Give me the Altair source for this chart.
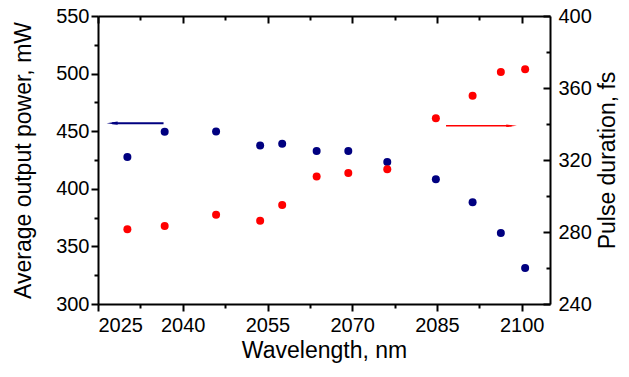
import altair as alt
import pandas as pd

# ---- data ----
wavelength = [2030.2, 2036.8, 2045.9, 2053.7, 2057.6, 2063.7, 2069.3, 2076.2, 2084.8, 2091.3, 2096.3, 2100.6]
power = [427.6, 449.6, 449.8, 437.5, 439.0, 432.8, 432.8, 423.3, 408.3, 388.3, 361.7, 331.2]
duration = [281.5, 283.3, 289.6, 286.3, 295.0, 310.9, 312.8, 314.8, 343.2, 355.7, 368.9, 370.4]

# arrows pointing to the axis each series belongs to
power_arrow_x = [2036.6, 2027.5]
power_arrow_y = [457, 457]
duration_arrow_x = [2086.6, 2098.2]
duration_arrow_y = [339, 339]

x_major = [2025, 2040, 2055, 2070, 2085, 2100]
x_minor = [2032.5, 2047.5, 2062.5, 2077.5, 2092.5]
p_major = [300, 350, 400, 450, 500, 550]
p_minor = [325, 375, 425, 475, 525]
d_major = [240, 280, 320, 360, 400]
d_minor = [260, 300, 340, 380]

NAVY = "#000080"
RED = "#ff0000"
FONT = "Liberation Sans"

df = pd.DataFrame({"wavelength": wavelength, "power": power, "duration": duration})
pa = pd.DataFrame({"x": [power_arrow_x[0]], "x2": [power_arrow_x[1]], "y": [power_arrow_y[0]]})
da = pd.DataFrame({"x": [duration_arrow_x[0]], "x2": [duration_arrow_x[1]], "y": [duration_arrow_y[0]]})

xs = alt.Scale(domain=[2025, 2105], nice=False, zero=False)
ps = alt.Scale(domain=[300, 550], nice=False, zero=False)
ds = alt.Scale(domain=[240, 400], nice=False, zero=False)

common = dict(domainColor="black", tickColor="black", domainWidth=2, tickWidth=2,
              labelColor="black", titleColor="black", grid=False,
              labelFont=FONT, titleFont=FONT, labelFontSize=20, titleFontSize=23,
              titleFontWeight="normal")

# A: blue points, bottom + left axes with labels (major, outward ticks)
A = alt.Chart(df).mark_circle(color=NAVY, size=64, opacity=1).encode(
    x=alt.X("wavelength:Q", scale=xs,
            axis=alt.Axis(orient="bottom", values=x_major, tickSize=7, labelPadding=4,
                          format="d", title="Wavelength, nm", titlePadding=4, **common)),
    y=alt.Y("power:Q", scale=ps,
            axis=alt.Axis(orient="left", values=p_major, tickSize=7, labelPadding=2,
                          format="d", title="Average output power, mW", titlePadding=20, **common)),
)

# B: red points, right axis labels
B = alt.Chart(df).mark_circle(color=RED, size=64, opacity=1).encode(
    x=alt.X("wavelength:Q", scale=xs, axis=None),
    y=alt.Y("duration:Q", scale=ds,
            axis=alt.Axis(orient="right", values=d_major, ticks=False, tickSize=0, labelPadding=8,
                          format="d", title="Pulse duration, fs", titleAngle=270,
                          titleBaseline="top", titlePadding=5, **common)),
)

# C: minor outward ticks on bottom and left
C = alt.Chart(df).mark_circle(opacity=0).encode(
    x=alt.X("wavelength:Q", scale=xs,
            axis=alt.Axis(orient="bottom", values=x_minor, tickSize=4, labels=False,
                          domain=False, title=None, **common)),
    y=alt.Y("power:Q", scale=ps,
            axis=alt.Axis(orient="left", values=p_minor, tickSize=4, labels=False,
                          domain=False, title=None, **common)),
)

# D: inward major ticks on top and right (top border drawn here)
D = alt.Chart(df).mark_circle(opacity=0).encode(
    x=alt.X("wavelength:Q", scale=xs,
            axis=alt.Axis(orient="bottom", offset=-288, values=x_major, tickSize=7, labels=False,
                          domain=True, title=None, **common)),
    y=alt.Y("duration:Q", scale=ds,
            axis=alt.Axis(orient="left", offset=-452, values=d_major, tickSize=7, labels=False,
                          domain=False, title=None, **common)),
)

# E: inward minor ticks on top and right
E = alt.Chart(df).mark_circle(opacity=0).encode(
    x=alt.X("wavelength:Q", scale=xs,
            axis=alt.Axis(orient="bottom", offset=-288, values=x_minor, tickSize=4, labels=False,
                          domain=False, title=None, **common)),
    y=alt.Y("duration:Q", scale=ds,
            axis=alt.Axis(orient="left", offset=-452, values=d_minor, tickSize=4, labels=False,
                          domain=False, title=None, **common)),
)

# arrows
F1 = alt.Chart(pa).mark_rule(color=NAVY, strokeWidth=2).encode(
    x=alt.X("x:Q", scale=xs, axis=None), x2="x2:Q",
    y=alt.Y("y:Q", scale=ps, axis=None))
F2 = alt.Chart(pa).mark_point(shape="M1,0L-1,-0.28L-1,0.28Z", filled=True, opacity=1,
                              color=NAVY, size=121, angle=180).encode(
    x=alt.X("x2:Q", scale=xs, axis=None), y=alt.Y("y:Q", scale=ps, axis=None))
G1 = alt.Chart(da).mark_rule(color=RED, strokeWidth=1.5).encode(
    x=alt.X("x:Q", scale=xs, axis=None), x2="x2:Q",
    y=alt.Y("y:Q", scale=ds, axis=None))
G2 = alt.Chart(da).mark_point(shape="M1,0L-1,-0.24L-1,0.24Z", filled=True, opacity=1,
                              color=RED, size=114).encode(
    x=alt.X("x2:Q", scale=xs, axis=None), y=alt.Y("y:Q", scale=ds, axis=None))

chart = alt.layer(C, D, E, F1, F2, G1, G2, A, B).resolve_scale(
    y="independent"
).resolve_axis(x="independent", y="independent").properties(
    width=452, height=288, autosize="none",
    padding={"left": 90, "top": 8, "right": 71, "bottom": 61},
    background="white",
).configure_view(stroke=None)

chart.save("out.html", embed_options={"renderer": "svg", "actions": False})
